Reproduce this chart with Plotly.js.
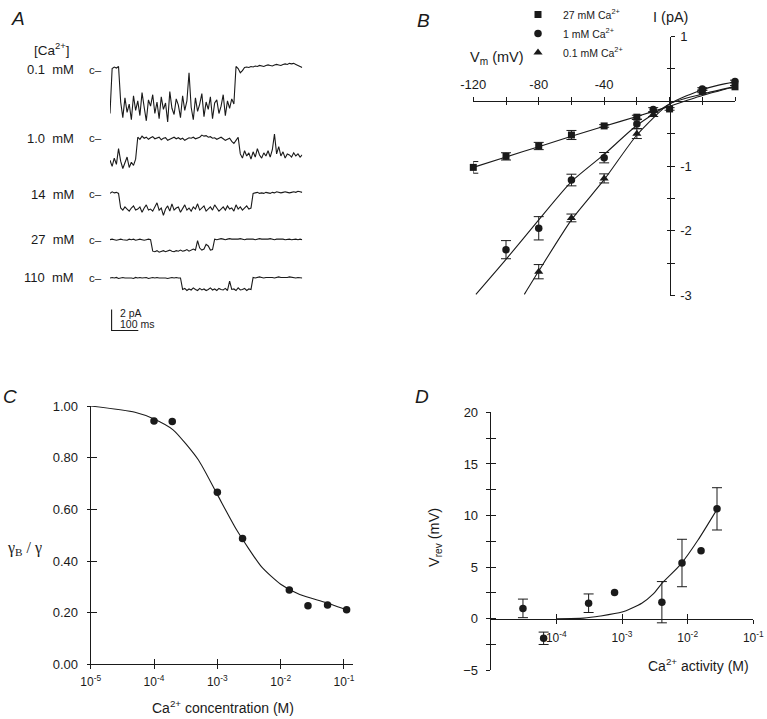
<!DOCTYPE html>
<html><head><meta charset="utf-8">
<script src="https://cdn.plot.ly/plotly-3.0.1.min.js"></script>
<style>html,body{margin:0;padding:0;background:#fff}#plot{width:767px;height:719px}</style>
</head><body><div id="plot"></div>
<script>
// ================= DATA =================
// Panel A: single-channel current traces (pA, relative to closed level), sampled every A_DT ms
const A_DT = 8;
const A_LABELS = ['0.1\u00a0\u00a0mM', '1.0\u00a0\u00a0mM', '14\u00a0\u00a0mM', '27\u00a0\u00a0mM', '110\u00a0\u00a0mM'];
const A_T1 = [-4.2, 0.1,0.25,0.15,0.3,
 -3.1,-4.6,-2.7,-4.1,-3.3,-4.8,-2.5,-3.9,-3.0,-4.4,
 -2.2,-3.6,-4.9,-2.9,-3.5,-2.4,-4.2,-3.1,-4.7,-2.6,
 -3.8,-3.2,-5.0,-2.1,-3.7,-4.3,-2.8,-3.4,-4.6,-2.5,
 -3.9,-3.0,-0.3,-3.6,-4.8,-2.7,-4.0,-3.3,-2.3,-4.5,
 -3.1,-3.8,-2.6,-4.7,-3.2,-2.9,-4.2,-3.5,-2.4,-4.4,
 -3.0,-3.7,-2.8,-3.3,
 0.3,0.1,-0.3,-0.1,0.2,0.25,0.2,0.3,0.25,0.35,
 0.3,0.4,0.35,0.3,0.4,0.45,0.4,0.35,0.45,0.5,
 0.45,0.4,0.5,0.55,0.5,0.6,0.55,0.6,0.5,0.4,
 0.3,0.2];
const A_T2 = [-2.1,-2.7,-1.9,-2.5,-1.0,-2.2,-2.9,-2.4,-1.8,-2.8,-2.3,-2.6,-2.0,
 0.1,-0.1,0.2,0.0,0.1,-0.1,0.05,0.15,-0.05,0.0,
 0.1,-0.15,0.0,0.05,-0.2,-0.1,0.0,0.1,-0.05,0.05,
 -0.1,0.0,-0.2,-0.1,0.05,0.0,0.1,-0.05,0.0,0.1,
 0.3,0.2,0.25,0.1,0.15,0.0,0.05,-0.1,0.0,0.1,
 -0.05,-0.2,-0.1,0.0,-0.3,-0.5,-0.2,0.1,
 -1.5,-1.9,-1.2,-1.7,-1.4,-2.0,-1.3,-1.8,-1.0,-1.6,
 -1.9,-1.4,-1.7,-1.2,-1.8,-1.1,0.4,-1.5,-0.8,-1.7,
 -1.3,-1.9,-1.5,-1.6,-1.8,-1.4,-1.7,-1.5,-1.8,-1.6];
const A_T3 = [0.1,0.25,0.15,0.2,0.1,
 -1.3,-1.5,-1.2,-1.4,-1.6,-1.3,-1.1,-1.5,-1.4,-1.2,
 -1.7,-1.3,-1.0,-1.5,-1.4,-1.6,-1.2,-0.8,-1.5,-1.3,
 -2.0,-1.4,-1.1,-1.6,-0.9,-1.5,-1.3,-1.2,-1.7,-1.4,
 -1.0,-1.5,-1.3,-1.6,-1.2,-1.4,-0.9,-1.5,-1.3,-1.1,
 -1.6,-1.4,-1.2,-1.5,-1.0,-1.3,-1.6,-1.4,-1.2,-1.5,
 -1.1,-1.4,-1.3,-1.6,-1.0,-1.4,-1.2,-1.5,-1.3,-1.1,
 -1.4,-1.3,
 0.1,0.15,0.2,0.1,0.15,0.1,0.2,0.15,0.1,0.2,
 0.15,0.25,0.2,0.15,0.2,0.25,0.2,0.15,0.2,0.25,
 0.2,0.3,0.25,0.2];
const A_T4 = [0.0,0.05,0.0,-0.05,0.0,0.05,0.0,0.0,-0.05,0.05,
 0.0,0.05,-0.05,0.0,0.05,0.0,-0.05,0.0,0.05,0.0,
 -1.1,-1.15,-1.05,-1.2,-1.1,-1.05,-1.15,-1.1,-1.0,-1.1,
 -1.15,-1.05,-1.1,-1.0,-1.1,-1.05,-0.95,-1.1,-1.0,-0.9,
 -1.0,-0.1,-0.8,-1.0,-0.9,-0.45,-0.6,-1.0,-0.95,
 0.05,0.0,0.05,0.1,0.05,0.0,0.05,0.1,0.05,0.05,
 0.0,0.05,0.1,0.05,0.0,0.05,0.05,0.1,0.05,0.0,
 0.05,0.1,0.05,0.05,0.0,0.05,0.1,0.05,0.0,0.05,
 0.05,0.1,0.05,0.0,0.05,0.05,0.0,0.05,0.05,0.0,
 0.05,0.0];
const A_T5 = [0.0,0.05,0.0,0.05,-0.05,0.0,0.05,0.0,0.0,0.05,
 0.0,-0.05,0.05,0.0,0.05,0.0,0.0,0.05,-0.05,0.0,
 0.05,0.0,0.05,0.0,0.0,0.05,0.0,-0.05,0.0,0.05,
 0.0,0.05,0.0,0.0,
 -1.1,-1.0,-1.2,-1.05,-1.15,-0.95,-1.1,-1.2,-1.0,-1.15,
 -1.05,-1.2,-1.1,-0.95,-1.15,-1.05,-1.2,-1.0,-1.1,-1.15,
 -1.0,-1.2,-0.3,-1.1,-1.05,-1.2,-0.95,-1.15,-1.1,-1.0,
 -1.2,-1.05,-1.1,
 0.05,0.0,0.05,0.1,0.05,0.0,0.05,0.05,0.1,0.05,
 0.0,0.05,0.1,0.05,0.05,0.0,0.05,0.1,0.05,0.05,
 0.0,0.05,0.05,0.0];
const A_SCALE_PA = 2, A_SCALE_MS = 100;

// Panel B: I-V relations
const B_V27 = [-120,-100,-80,-60,-40,-20,0,20,40];
const B_I27 = [-1.02,-0.85,-0.69,-0.52,-0.38,-0.245,-0.118,0.153,0.224];
const B_E27 = [0.09,0.056,0.056,0.07,0.02,0.03,0.02,0.02,0.02];
const B_V1 = [-100,-80,-60,-40,-20,-10,20,40];
const B_I1 = [-2.29,-1.96,-1.215,-0.87,-0.35,-0.128,0.19,0.306];
const B_E1 = [0.14,0.18,0.09,0.08,0.07,0.03,0.02,0.02];
const B_V01 = [-80,-60,-40,-20,-10];
const B_I01 = [-2.63,-1.80,-1.19,-0.50,-0.205];
const B_E01 = [0.11,0.06,0.07,0.075,0.03];
const B_FIT27_V = [-120,-100,-80,-60,-40,-20,0,20,40];
const B_FIT27_I = [-1.02,-0.86,-0.70,-0.54,-0.385,-0.235,-0.075,0.09,0.225];
const B_FIT1_V = [-118.4,-100,-80,-60,-40,-20,0,10,20,30,40];
const B_FIT1_I = [-2.98,-2.44,-1.83,-1.24,-0.82,-0.37,-0.04,0.08,0.18,0.25,0.30];
const B_FIT01_V = [-88.8,-80,-60,-40,-20,0,20,40];
const B_FIT01_I = [-2.98,-2.62,-1.83,-1.21,-0.52,-0.04,0.11,0.23];
const B_LEGEND = ['27 mM Ca<sup>2+</sup>', '1 mM Ca<sup>2+</sup>', '0.1 mM Ca<sup>2+</sup>'];

// Panel C: conductance ratio vs Ca2+ concentration
const C_CONC = [1e-4, 1.94e-4, 1e-3, 2.5e-3, 0.0137, 0.027, 0.055, 0.11];
const C_RATIO = [0.942, 0.94, 0.666, 0.487, 0.288, 0.227, 0.230, 0.211];
const C_FIT_X = [1e-5, 5e-5, 1e-4, 2e-4, 5e-4, 1e-3, 2e-3, 5e-3, 1e-2, 2e-2, 5e-2, 1e-1, 0.11];
const C_FIT_Y = [1.0, 0.976, 0.95, 0.908, 0.792, 0.657, 0.522, 0.377, 0.31, 0.27, 0.24, 0.215, 0.213];

// Panel D: reversal potential vs Ca2+ activity
const D_ACT = [3.1e-5, 6.4e-5, 3.1e-4, 7.7e-4, 4.05e-3, 8.2e-3, 0.016, 0.028];
const D_VREV = [1.0, -1.9, 1.5, 2.55, 1.6, 5.4, 6.6, 10.65];
const D_ERR = [0.9, 0.6, 0.9, NaN, 2.0, 2.3, NaN, 2.05];
const D_FIT_X = [1e-4, 2.6e-4, 4.7e-4, 1e-3, 2e-3, 3e-3, 4.15e-3, 7.9e-3, 0.0143, 0.028];
const D_FIT_Y = [0, 0.06, 0.26, 0.64, 1.5, 2.4, 3.5, 5.3, 7.6, 10.6];

const LOG_TICKS = [1e-5, 1e-4, 1e-3, 1e-2, 1e-1];
const LOG_TEXT = ['10<sup>-5</sup>','10<sup>-4</sup>','10<sup>-3</sup>','10<sup>-2</sup>','10<sup>-1</sup>'];

// ================= LAYOUT HELPERS =================
const W = 767, H = 719;
const fx = px => px / W;
const fy = py => 1 - py / H;
const FONT = 'Arial, "Liberation Sans", Helvetica, sans-serif';
const INK = '#1a1a1a';

const traces = [];
const layout = {
  width: W, height: H, margin: {l:0, r:0, t:0, b:0},
  paper_bgcolor: '#fff', plot_bgcolor: 'rgba(0,0,0,0)',
  showlegend: true, font: {family: FONT, color: INK, size: 12},
  annotations: [], shapes: []
};
function ann(text, px, py, opt) {
  layout.annotations.push(Object.assign({
    text: text, x: fx(px), y: fy(py), xref: 'paper', yref: 'paper',
    showarrow: false, xanchor: 'center', yanchor: 'middle',
    font: {family: FONT, size: 12, color: INK}
  }, opt || {}));
}
// twin axis that only draws the inner half of crossing tick marks
function twin(newKey, baseKey, xa, ya, extra) {
  const base = layout[baseKey];
  const t = Object.assign({}, base, {overlaying: baseKey.replace('axis', ''),
    ticks: 'inside', showticklabels: false, showline: false}, extra || {});
  delete t.domain;
  layout[newKey] = t;
  traces.push({x: [], y: [], xaxis: xa, yaxis: ya, type: 'scatter', mode: 'markers', showlegend: false, hoverinfo: 'skip'});
}

// ---------- Panel A ----------
const A_SERIES = [A_T1, A_T2, A_T3, A_T4, A_T5];
const A_CLOSED_PY = [66, 135, 191.5, 237, 275.5];
const A_RANGES = [[-5.6, 1.2], [-3.6, 1.0], [-2.7, 1.0], [-2.0, 0.8], [-2.0, 0.8]];
const A_PX_PER_PA = 10.5;
const A_PX_PER_MS = 0.267;
const A_X0 = 110;
layout.xaxis = {domain: [fx(A_X0), fx(A_X0 + 720 * A_PX_PER_MS)], range: [0, 720], visible: false, anchor: 'y', fixedrange: true};
A_SERIES.forEach((vals, k) => {
  const ax = k === 0 ? 'yaxis' : 'yaxis' + (k + 1);
  const r = A_RANGES[k], c = A_CLOSED_PY[k];
  layout[ax] = {domain: [fy(c - r[0] * A_PX_PER_PA), fy(c - r[1] * A_PX_PER_PA)], range: r, visible: false, anchor: 'x'};
  traces.push({x: vals.map((v, i) => i * A_DT), y: vals, xaxis: 'x', yaxis: k === 0 ? 'y' : 'y' + (k + 1),
    type: 'scatter', mode: 'lines', line: {color: INK, width: 1.1}, showlegend: false, hoverinfo: 'skip'});
  ann(A_LABELS[k], 76, c, {xanchor: 'right', font: {family: FONT, size: 13, color: INK}});
  ann('c\u2013', 87, c, {xanchor: 'left', font: {family: FONT, size: 11.5, color: INK}});
});
// scale bar on its own axis
const SB_PY = 328.3, SB_T0 = 6;
layout.yaxis6 = {domain: [fy(SB_PY + 0.4 * A_PX_PER_PA), fy(SB_PY - 2.4 * A_PX_PER_PA)], range: [-0.4, 2.4], visible: false, anchor: 'x'};
traces.push({x: [SB_T0, SB_T0, SB_T0 + A_SCALE_MS], y: [A_SCALE_PA, 0, 0], xaxis: 'x', yaxis: 'y6', type: 'scatter', mode: 'lines',
  line: {color: INK, width: 1.1}, showlegend: false, hoverinfo: 'skip'});
ann(A_SCALE_PA + ' pA', 118, 311, {xanchor: 'left', font: {family: FONT, size: 10.5, color: INK}});
ann(A_SCALE_MS + ' ms', 118, 322, {xanchor: 'left', font: {family: FONT, size: 10.5, color: INK}});
ann('<i>A</i>', 18, 15, {font: {family: FONT, size: 19, color: INK}});
ann('[Ca<sup>2+</sup>]', 52, 45, {font: {family: FONT, size: 13.5, color: INK}});

// ---------- Panel B ----------
const B_DOMX = [fx(473.3), fx(735)], B_RX = [-120, 40];
const B_DOMY = [fy(293.3), fy(32.7)], B_RY = [-3, 1];
const bZeroY = B_DOMY[0] + (0 - B_RY[0]) / (B_RY[1] - B_RY[0]) * (B_DOMY[1] - B_DOMY[0]);
const bZeroX = B_DOMX[0] + (0 - B_RX[0]) / (B_RX[1] - B_RX[0]) * (B_DOMX[1] - B_DOMX[0]);
const bxTicks = [-120,-100,-80,-60,-40,-20,0,20,40];
const byTicks = [1,0.5,0,-0.5,-1,-1.5,-2,-2.5,-3];
layout.xaxis2 = {domain: B_DOMX, range: B_RX, anchor: 'free', position: bZeroY, side: 'top',
  tickvals: bxTicks, ticktext: bxTicks.map(v => [-120,-80,-40].includes(v) ? String(v) : ''),
  ticks: 'outside', ticklen: 4, tickcolor: INK, showline: true, linecolor: INK, linewidth: 1,
  showgrid: false, zeroline: false, tickfont: {family: FONT, size: 13, color: INK}, ticklabelstandoff: 3};
layout.yaxis7 = {domain: B_DOMY, range: B_RY, anchor: 'free', position: bZeroX, side: 'right',
  tickvals: byTicks, ticktext: byTicks.map(v => [1,-1,-2,-3].includes(v) ? String(v) : ''),
  ticks: 'outside', ticklen: 4, tickcolor: INK, showline: true, linecolor: INK, linewidth: 1,
  showgrid: false, zeroline: false, tickfont: {family: FONT, size: 13, color: INK}, ticklabelstandoff: 3};
twin('xaxis5', 'xaxis2', 'x5', 'y7', {ticklen: 3});
twin('yaxis11', 'yaxis7', 'x2', 'y11', {ticklen: 3});
function fitLine(xs, ys, xa, ya) {
  traces.push({x: xs, y: ys, xaxis: xa, yaxis: ya, type: 'scatter', mode: 'lines', line: {color: INK, width: 1.1, shape: 'spline', smoothing: 0.6},
    showlegend: false, hoverinfo: 'skip', cliponaxis: false});
}
fitLine(B_FIT27_V, B_FIT27_I, 'x2', 'y7');
fitLine(B_FIT1_V, B_FIT1_I, 'x2', 'y7');
fitLine(B_FIT01_V, B_FIT01_I, 'x2', 'y7');
[[B_V27, B_I27, B_E27, 'square', 7], [B_V1, B_I1, B_E1, 'circle', 7.5], [B_V01, B_I01, B_E01, 'triangle-up', 8]].forEach((s, k) => {
  traces.push({x: s[0], y: s[1], xaxis: 'x2', yaxis: 'y7', type: 'scatter', mode: 'markers', name: B_LEGEND[k],
    marker: {symbol: s[3], size: s[4], color: INK}, error_y: {type: 'data', array: s[2], visible: true, color: INK, thickness: 1, width: 5},
    cliponaxis: false, hoverinfo: 'skip'});
});
layout.legend = {x: fx(513), y: fy(-4), xanchor: 'left', yanchor: 'top', bgcolor: 'rgba(0,0,0,0)',
  font: {family: FONT, size: 10.5, color: INK}, tracegroupgap: 0, itemclick: false, itemwidth: 40};
ann('<i>B</i>', 423, 17, {font: {family: FONT, size: 19, color: INK}});
ann('V<sub>m</sub> (mV)', 497, 54, {font: {family: FONT, size: 14.5, color: INK}});
ann('I (pA)', 670, 13, {font: {family: FONT, size: 14.5, color: INK}});

// ---------- Panel C ----------
layout.xaxis3 = {domain: [fx(90.7), fx(353.3)], type: 'log', range: [-5, -0.853], anchor: 'y8',
  tickvals: LOG_TICKS, ticktext: LOG_TEXT, ticks: 'outside', ticklen: 4, tickcolor: INK,
  showline: true, linecolor: INK, linewidth: 1, showgrid: false, zeroline: false,
  tickfont: {family: FONT, size: 12, color: INK}, ticklabelstandoff: 2};
const cTicks = [0, 0.2, 0.4, 0.6, 0.8, 1.0];
layout.yaxis8 = {domain: [fy(664), fy(404.3)], range: [0, 1.0], anchor: 'x3',
  tickvals: cTicks, ticktext: cTicks.map(v => v.toFixed(2)), ticks: 'outside', ticklen: 3, tickcolor: INK,
  showline: true, linecolor: INK, linewidth: 1, showgrid: false, zeroline: false,
  tickfont: {family: FONT, size: 13, color: INK}, ticklabelstandoff: 6};
twin('xaxis6', 'xaxis3', 'x6', 'y8', {ticklen: 5});
twin('yaxis12', 'yaxis8', 'x3', 'y12', {ticklen: 6});
fitLine(C_FIT_X, C_FIT_Y, 'x3', 'y8');
traces.push({x: C_CONC, y: C_RATIO, xaxis: 'x3', yaxis: 'y8', type: 'scatter', mode: 'markers',
  marker: {symbol: 'circle', size: 7.5, color: INK}, showlegend: false, cliponaxis: false, hoverinfo: 'skip'});
ann('<i>C</i>', 10, 395, {font: {family: FONT, size: 19, color: INK}});
ann('\u03b3<sub>B</sub> / \u03b3', 24, 548, {font: {family: '"Liberation Serif", "DejaVu Serif", serif', size: 16, color: INK}});
ann('Ca<sup>2+</sup> concentration (M)', 223, 707, {font: {family: FONT, size: 14, color: INK}});

// ---------- Panel D ----------
const D_DOMY = [fy(670), fy(410.7)], D_RY = [-5, 20];
const dZeroY = D_DOMY[0] + (0 - D_RY[0]) / (D_RY[1] - D_RY[0]) * (D_DOMY[1] - D_DOMY[0]);
layout.xaxis4 = {domain: [fx(490.7), fx(753.3)], type: 'log', range: [-5, -1], anchor: 'free', position: dZeroY,
  tickvals: LOG_TICKS, ticktext: LOG_TEXT.map((t, i) => i === 0 ? '' : t), ticks: 'outside', ticklen: 4, tickcolor: INK,
  showline: true, linecolor: INK, linewidth: 1, showgrid: false, zeroline: false,
  tickfont: {family: FONT, size: 12, color: INK}, ticklabelstandoff: 4};
layout.yaxis10 = {domain: D_DOMY, range: D_RY, anchor: 'x4', tickvals: [-5,0,5,10,15,20],
  ticks: 'outside', ticklen: 4, tickcolor: INK, minor: {dtick: 2.5, ticks: 'outside', ticklen: 4, tickcolor: INK},
  showline: true, linecolor: INK, linewidth: 1, showgrid: false, zeroline: false,
  tickfont: {family: FONT, size: 13, color: INK}, ticklabelstandoff: 5};
twin('xaxis7', 'xaxis4', 'x7', 'y10', {ticklen: 5});
twin('yaxis13', 'yaxis10', 'x4', 'y13', {ticklen: 5, minor: {dtick: 2.5, ticks: 'inside', ticklen: 5, tickcolor: INK}});
fitLine(D_FIT_X, D_FIT_Y, 'x4', 'y10');
traces.push({x: D_ACT, y: D_VREV, xaxis: 'x4', yaxis: 'y10', type: 'scatter', mode: 'markers',
  marker: {symbol: 'circle', size: 7.5, color: INK}, error_y: {type: 'data', array: D_ERR, visible: true, color: INK, thickness: 1, width: 5},
  showlegend: false, cliponaxis: false, hoverinfo: 'skip'});
ann('<i>D</i>', 422, 395, {font: {family: FONT, size: 19, color: INK}});
ann('V<sub>rev</sub> (mV)', 435, 537, {textangle: -90, font: {family: FONT, size: 14.5, color: INK}});
ann('Ca<sup>2+</sup> activity (M)', 698, 665, {font: {family: FONT, size: 14, color: INK}});

Plotly.newPlot('plot', traces, layout, {staticPlot: true, displayModeBar: false});
</script>
</body></html>
